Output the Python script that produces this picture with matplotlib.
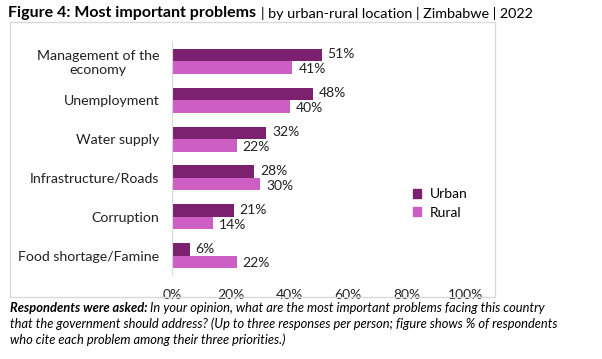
import matplotlib.pyplot as plt
from matplotlib.patches import Rectangle, Patch
import numpy as np

# data
problems = ['Management of the\neconomy', 'Unemployment', 'Water supply',
            'Infrastructure/Roads', 'Corruption', 'Food shortage/Famine']
urban = [51, 48, 32, 28, 21, 6]
rural = [41, 40, 22, 30, 14, 22]
xticks = [0, 20, 40, 60, 80, 100]

urban_col = '#7B2170'
rural_col = '#CC5EC4'
font = 'Lato'

fig = plt.figure(figsize=(6.02, 3.59), dpi=100)
ax = fig.add_axes([0.2857, 0.234, 0.488, 0.649])

y = np.arange(len(problems))
h = 0.32
ax.barh(y - h / 2, urban, height=h, color=urban_col, label='Urban')
ax.barh(y + h / 2, rural, height=h, color=rural_col, label='Rural')

for yi, u, r in zip(y, urban, rural):
    ax.text(u + 2, yi - h / 2 - 0.02, f'{u}%', va='center', ha='left',
            fontsize=10, family=font, color='#222222')
    ax.text(r + 2, yi + h / 2 + 0.04, f'{r}%', va='center', ha='left',
            fontsize=10, family=font, color='#222222')

ax.set_ylim(len(problems) - 0.5, -0.5)
ax.set_xlim(0, 100)
ax.set_yticks(y)
ax.set_yticklabels(problems, fontsize=10.2, family=font, color='#222222',
                   multialignment='center')
ax.set_xticks(xticks)
ax.set_xticklabels([f'{t}%' for t in xticks], fontsize=10, family=font, color='#222222')
ax.tick_params(axis='y', length=0, pad=9)
ax.tick_params(axis='x', length=0, pad=10)
for s in ['top', 'right', 'bottom']:
    ax.spines[s].set_visible(False)
ax.spines['left'].set_color('#D9D9D9')

handles = [Patch(color=urban_col), Patch(color=rural_col)]
fig.legend(handles, ['Urban', 'Rural'], loc='upper left',
           bbox_to_anchor=(0.665, 0.51), frameon=False,
           prop={'family': font, 'size': 10}, handlelength=0.6,
           handleheight=0.6, handletextpad=0.6, labelspacing=0.45)

# outer frame
fig.patches.append(Rectangle((10 / 602, 1 - 297 / 359), 485 / 602, 275 / 359,
                             transform=fig.transFigure, fill=False,
                             edgecolor='#D9D9D9', linewidth=1))

# title
t1 = fig.text(8 / 602, 1 - 13 / 359, 'Figure 4: Most important problems', fontsize=11.5,
              fontweight='bold', family=font, va='center', ha='left')
fig.canvas.draw()
bb = t1.get_window_extent()
fig.text(bb.x1 / 602 + 0.008, 1 - 13 / 359,
         '| by urban-rural location | Zimbabwe | 2022',
         fontsize=10.4, family=font, va='center', ha='left')

# footnote
note_y = 1 - 308 / 359
t2 = fig.text(10 / 602, note_y, 'Respondents were asked:', fontsize=9.3,
              fontweight='bold', style='italic', family=font, va='center', ha='left')
fig.canvas.draw()
bb2 = t2.get_window_extent()
fig.text(bb2.x1 / 602 + 0.004, note_y,
         'In your opinion, what are the most important problems facing this country',
         fontsize=9.3, style='italic', family=font, va='center', ha='left')
fig.text(10 / 602, 1 - 324 / 359,
         'that the government should address? (Up to three responses per person; '
         'figure shows % of respondents',
         fontsize=9.3, style='italic', family=font, va='center', ha='left')
fig.text(10 / 602, 1 - 340 / 359,
         'who cite each problem among their three priorities.)',
         fontsize=9.3, style='italic', family=font, va='center', ha='left')

fig.savefig('out.png', dpi=100)
